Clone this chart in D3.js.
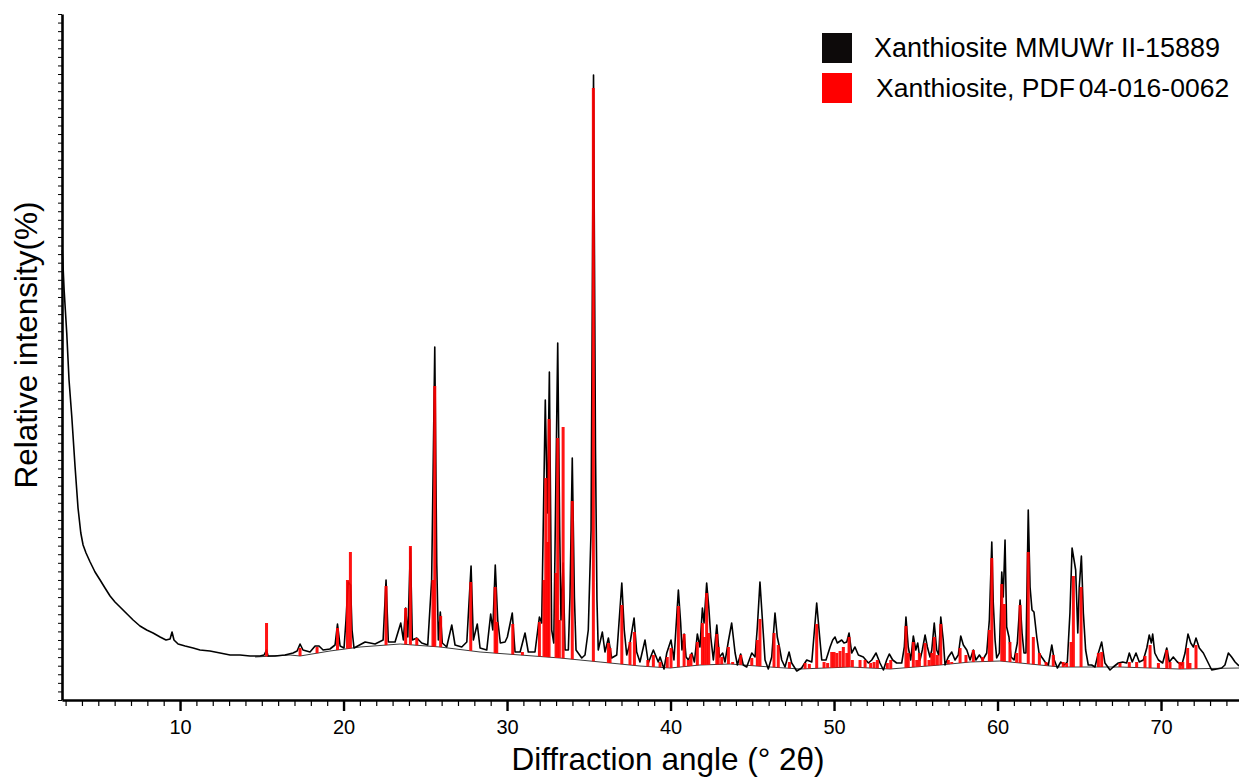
<!DOCTYPE html>
<html>
<head>
<meta charset="utf-8">
<script src="https://cdnjs.cloudflare.com/ajax/libs/d3/7.8.5/d3.min.js"></script>
<style>
  body { margin: 0; background: #fff; }
  svg { display: block; font-family: "Liberation Sans", Arial, sans-serif; }
</style>
</head>
<body>
<div id="chart"></div>
<script>
const scan = [
  [2.80,450],[2.91,410],[3.07,367],[3.21,320],[3.38,283],[3.58,233],[3.76,192],[3.93,167],[4.07,155],[4.25,147],
  [4.50,138],[4.80,128],[5.11,120],[5.41,112],[5.72,104],[6.02,98],[6.33,93],[6.76,86],[7.13,80],[7.55,74],
  [7.96,70],[8.35,67],[8.78,63],[9.14,60],[9.39,61],[9.51,68],[9.63,60],[9.88,56],[10.31,54],[10.80,52],
  [11.22,50],[11.83,49],[12.45,47],[13.06,45],[13.67,45],[14.28,44],[14.89,44],[15.14,45],[15.29,50],[15.38,44],
  [15.81,44],[16.42,45],[16.91,47],[17.16,49],[17.34,56],[17.52,50],[17.95,48],[18.26,54],[18.50,54],[18.75,50],
  [19.17,51],[19.48,55],[19.63,76],[19.79,54],[20.03,52],[20.15,80],[20.28,118],[20.43,115],[20.52,70],[20.64,52],
  [21.32,58],[21.93,56],[22.42,60],[22.60,120],[22.74,58],[23.15,58],[23.50,77],[23.66,60],[23.80,92],[23.93,63],
  [24.09,152],[24.21,60],[24.48,62],[24.78,57],[25.15,55],[25.39,120],[25.58,353],[25.70,137],[25.80,60],[25.92,88],
  [26.04,57],[26.31,53],[26.62,75],[26.82,55],[27.23,53],[27.54,58],[27.80,134],[27.94,60],[28.18,76],[28.35,52],
  [28.76,50],[29.00,86],[29.13,70],[29.28,135],[29.43,80],[29.59,57],[29.88,58],[30.02,63],[30.32,87],[30.49,48],
  [30.80,48],[31.10,67],[31.30,48],[31.71,48],[31.98,83],[32.12,77],[32.34,300],[32.47,187],[32.59,328],[32.73,70],
  [32.86,57],[32.95,170],[33.10,357],[33.22,170],[33.30,80],[33.43,137],[33.55,50],[33.75,50],[33.85,103],[33.99,242],
  [34.12,103],[34.22,50],[34.57,42],[34.77,45],[34.97,70],[35.14,170],[35.29,625],[35.41,250],[35.50,100],[35.58,50],
  [35.83,68],[35.99,48],[36.20,62],[36.40,42],[36.71,45],[37.02,117],[37.17,70],[37.32,45],[37.52,57],[37.77,82],
  [37.93,48],[38.13,38],[38.44,60],[38.64,37],[38.95,50],[39.25,38],[39.36,43],[39.60,31],[39.77,47],[40.03,60],
  [40.21,40],[40.48,110],[40.62,77],[40.70,50],[40.83,66],[40.95,43],[41.09,40],[41.30,47],[41.46,38],[41.64,66],
  [41.80,53],[41.95,92],[42.05,77],[42.21,117],[42.34,93],[42.46,63],[42.62,40],[42.83,75],[42.99,43],[43.19,47],
  [43.33,38],[43.54,59],[43.74,77],[43.95,47],[44.09,35],[44.29,46],[44.45,35],[44.66,33],[44.97,47],[45.17,43],
  [45.31,73],[45.47,118],[45.62,80],[45.78,40],[45.98,31],[46.19,43],[46.39,87],[46.53,63],[46.66,53],[46.80,40],
  [47.00,33],[47.25,48],[47.41,37],[47.72,29],[48.02,32],[48.33,40],[48.64,38],[48.94,97],[49.10,67],[49.25,40],
  [49.51,40],[49.76,53],[49.92,60],[50.06,63],[50.20,57],[50.47,60],[50.61,57],[50.78,58],[50.92,67],[51.08,47],
  [51.28,53],[51.49,45],[51.79,43],[52.10,37],[52.31,40],[52.57,47],[52.81,37],[53.02,30],[53.22,40],[53.38,46],
  [53.59,40],[53.83,37],[54.14,37],[54.30,53],[54.40,83],[54.54,53],[54.69,40],[54.85,64],[55.00,50],[55.12,57],
  [55.26,40],[55.40,50],[55.57,65],[55.71,53],[55.87,43],[55.98,50],[56.13,77],[56.28,50],[56.40,45],[56.53,83],
  [56.68,60],[56.79,35],[56.99,43],[57.20,48],[57.40,40],[57.60,45],[57.75,64],[57.91,55],[58.12,50],[58.32,40],
  [58.52,50],[58.68,40],[58.89,45],[59.09,40],[59.34,47],[59.50,80],[59.65,158],[59.74,97],[59.85,60],[59.95,42],
  [60.11,47],[60.26,128],[60.35,103],[60.46,160],[60.56,73],[60.70,63],[60.83,43],[61.01,40],[61.21,57],[61.38,100],
  [61.50,67],[61.62,47],[61.74,47],[61.88,190],[61.99,113],[62.11,90],[62.23,88],[62.40,63],[62.54,47],[62.70,43],
  [62.91,38],[63.11,35],[63.32,55],[63.47,40],[63.66,32],[63.87,38],[64.07,35],[64.27,38],[64.43,87],[64.56,152],
  [64.68,140],[64.78,130],[64.91,67],[65.00,113],[65.13,144],[65.25,87],[65.39,50],[65.55,35],[65.76,35],[65.96,33],
  [66.17,47],[66.37,58],[66.57,37],[66.88,30],[67.08,33],[67.39,37],[67.66,38],[67.90,37],[68.06,47],[68.24,38],
  [68.47,47],[68.67,38],[68.92,40],[69.13,52],[69.28,65],[69.41,57],[69.49,66],[69.62,47],[69.84,40],[70.10,37],
  [70.35,52],[70.51,38],[70.75,43],[71.00,38],[71.27,35],[71.47,47],[71.65,66],[71.82,57],[71.98,53],[72.14,62],
  [72.34,52],[72.59,47],[72.80,40],[73.10,30],[73.41,31],[73.71,32],[73.91,35],[74.12,47],[74.32,43],[74.53,38],
  [74.77,34]
];

// Fitted background under the reference sticks
const bgAngle  = [14.59, 16.73, 17.34, 19.17, 21.01, 23.46, 25.90, 28.35, 30.80, 33.24, 35.69, 38.13, 39.97, 41.80,
                  43.64, 46.09, 47.92, 50.98, 53.43, 56.48, 58.32, 60.15, 61.99, 63.82, 67.49, 71.16, 74.77];
const bgCounts = [43, 45, 44, 49, 53, 56, 53, 48, 45, 42, 38, 34, 32, 35,
                  36, 33, 31, 33, 31, 35, 38, 39, 36, 33, 33, 31, 32];

// PDF 04-016-0062 reference lines: [angle, top of stick (counts)]
const refLines = [
  [15.29,77],[17.34,52],[18.38,53],[19.63,72],[20.24,120],[20.42,148],[22.60,114],[23.80,92],[24.09,154],[24.48,62],
  [25.47,120],[25.58,314],[25.94,84],[27.78,118],[29.27,113],[29.37,78],[30.35,76],[30.94,48],[31.98,78],[32.26,120],
  [32.37,222],[32.49,158],[32.57,281],[33.00,127],[33.10,262],[33.20,80],[33.43,273],[33.99,199],[35.28,612],[36.20,57],
  [36.30,52],[37.02,95],[37.52,58],[37.79,68],[38.61,40],[38.95,45],[39.36,38],[39.80,43],[40.03,52],[40.48,94],
  [40.83,66],[41.09,40],[41.25,46],[41.64,58],[41.95,77],[42.07,63],[42.21,107],[42.34,67],[42.83,66],[42.92,53],
  [43.13,43],[43.54,53],[43.80,38],[44.29,45],[44.97,42],[45.31,60],[45.47,81],[46.33,67],[46.59,55],[47.27,38],
  [48.23,37],[48.49,36],[48.94,76],[49.39,38],[49.61,37],[49.86,48],[50.00,48],[50.17,47],[50.37,49],[50.57,53],
  [50.78,47],[50.92,63],[51.12,40],[51.59,40],[51.90,40],[52.24,37],[52.45,38],[52.65,40],[53.26,37],[53.47,40],
  [54.40,74],[54.54,47],[54.85,58],[55.06,40],[55.22,47],[55.57,57],[55.81,40],[55.98,47],[56.13,63],[56.32,45],
  [56.53,76],[56.99,40],[57.20,38],[57.71,52],[58.07,45],[58.52,50],[59.09,43],[59.50,70],[59.65,142],[60.26,116],
  [60.42,96],[60.76,58],[61.17,47],[61.38,95],[61.88,148],[62.19,63],[62.56,47],[62.97,38],[63.41,45],[64.02,38],
  [64.23,37],[64.50,58],[64.64,124],[65.11,113],[66.17,47],[66.37,48],[67.49,37],[68.06,38],[68.51,38],[69.02,44],
  [69.33,55],[69.84,37],[70.35,50],[70.55,38],[71.16,38],[71.33,38],[71.63,52],[71.77,37],[72.14,55]
];

const majorTicks = [10, 20, 30, 40, 50, 60, 70];
const minorTicks = d3.range(3, 75);
const legendLabels = [['Xanthiosite MMUWr II-15889'], ['Xanthiosite, PDF', '04-016-0062']];
const legendColors = ['#0d0a0a', '#ff0000'];

const W = 1239, H = 778;
const x = d3.scaleLinear().domain([2.78, 74.77]).range([62, 1239]);
const y = d3.scaleLinear().domain([0, 686]).range([700, 14]);
const bg = d3.scaleLinear().domain(bgAngle).range(bgCounts).clamp(true);

const svg = d3.select('#chart').append('svg')
  .attr('width', W)
  .attr('height', H);

// background curve
svg.append('path')
  .datum(bgAngle.map((a, i) => [a, bgCounts[i]]))
  .attr('fill', 'none')
  .attr('stroke', '#3a3a3a')
  .attr('stroke-width', 1)
  .attr('d', d3.line().x(d => x(d[0])).y(d => y(d[1])));

// measured pattern
svg.append('path')
  .datum(scan)
  .attr('fill', 'none')
  .attr('stroke', '#000')
  .attr('stroke-width', 1.6)
  .attr('stroke-linejoin', 'round')
  .attr('d', d3.line().x(d => x(d[0])).y(d => y(d[1])));

// reference sticks, sitting on the background
svg.append('g')
  .selectAll('rect')
  .data(refLines)
  .enter()
  .append('rect')
  .attr('x', d => x(d[0]) - 1.5)
  .attr('width', 3)
  .attr('y', d => y(d[1]))
  .attr('height', d => Math.max(0, y(bg(d[0])) - y(d[1])))
  .attr('fill', '#ff0000')
  .attr('fill-opacity', 0.92);

// x axis: minor ticks, then major ticks with labels
const xMinor = svg.append('g')
  .attr('transform', 'translate(0,700)')
  .call(d3.axisBottom(x).tickValues(minorTicks).tickSize(6).tickSizeOuter(0).tickFormat(''));
xMinor.select('.domain').remove();
xMinor.selectAll('.tick line').attr('stroke', '#000').attr('stroke-width', 1.2);

const xMajor = svg.append('g')
  .attr('transform', 'translate(0,700)')
  .call(d3.axisBottom(x).tickValues(majorTicks).tickSize(11).tickSizeOuter(0).tickPadding(9));
xMajor.select('.domain').attr('stroke', '#000').attr('stroke-width', 2.6);
xMajor.selectAll('.tick line').attr('stroke', '#000').attr('stroke-width', 2.4);
xMajor.selectAll('.tick text')
  .attr('fill', '#000')
  .style('font-size', '20px')
  .style('font-family', '"Liberation Sans", Arial, sans-serif');

// y axis: unlabelled minor ticks
const yTicks = d3.range(0, 81).map(i => i * 686 / 80);
const yAxis = svg.append('g')
  .attr('transform', 'translate(62,0)')
  .call(d3.axisLeft(y).tickValues(yTicks).tickSize(4).tickSizeOuter(0).tickFormat(''));
yAxis.select('.domain').attr('stroke', '#000').attr('stroke-width', 2.6);
yAxis.selectAll('.tick line').attr('stroke', '#000').attr('stroke-width', 1);

// axis titles
svg.append('text')
  .attr('x', 668)
  .attr('y', 770)
  .attr('text-anchor', 'middle')
  .style('font-size', '31.5px')
  .attr('fill', '#000')
  .text('Diffraction angle (° 2θ)');

svg.append('text')
  .attr('transform', 'translate(37,345) rotate(-90)')
  .attr('text-anchor', 'middle')
  .style('font-size', '31.5px')
  .attr('fill', '#000')
  .text('Relative intensity(%)');

// legend
const legend = svg.append('g');
const legendTop = [33, 73];
const legendTextX = [874, 876];
const legendFont = [27, 26.5];
legendLabels.forEach((parts, i) => {
  legend.append('rect')
    .attr('x', 822)
    .attr('y', legendTop[i])
    .attr('width', 30)
    .attr('height', 30)
    .attr('fill', legendColors[i]);
  const t = legend.append('text')
    .attr('x', legendTextX[i])
    .attr('y', legendTop[i] + 24)
    .style('font-size', legendFont[i] + 'px')
    .attr('fill', '#000');
  parts.forEach((p, j) => {
    t.append('tspan').attr('dx', j ? 4 : 0).text(p);
  });
});
</script>
</body>
</html>
